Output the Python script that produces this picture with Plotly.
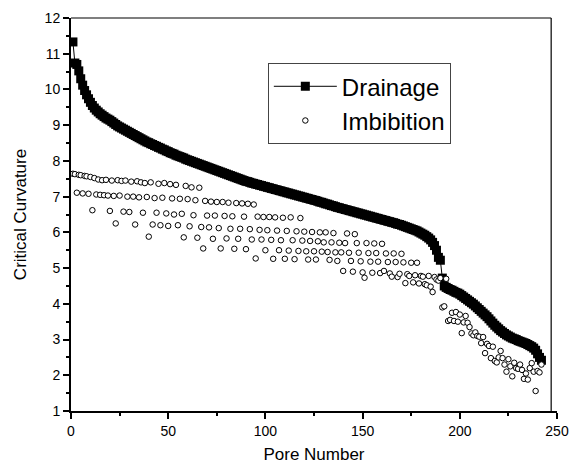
import plotly.graph_objects as go

pore_drainage = list(range(1, 243))
drainage = [
    11.33, 10.74, 10.70, 10.52, 10.30, 10.12, 9.97, 9.85, 9.74, 9.64,
    9.55, 9.48, 9.42, 9.37, 9.32, 9.28, 9.24, 9.20, 9.17, 9.14,
    9.10, 9.06, 9.02, 8.98, 8.95, 8.92, 8.89, 8.86, 8.83, 8.80,
    8.77, 8.74, 8.71, 8.68, 8.65, 8.62, 8.59, 8.56, 8.53, 8.51,
    8.48, 8.46, 8.43, 8.41, 8.38, 8.36, 8.33, 8.31, 8.28, 8.26,
    8.23, 8.21, 8.19, 8.16, 8.14, 8.12, 8.10, 8.08, 8.05, 8.03,
    8.01, 7.99, 7.97, 7.95, 7.93, 7.91, 7.89, 7.87, 7.85, 7.83,
    7.81, 7.79, 7.77, 7.75, 7.73, 7.71, 7.69, 7.67, 7.65, 7.63,
    7.61, 7.59, 7.57, 7.55, 7.53, 7.51, 7.49, 7.47, 7.45, 7.43,
    7.42, 7.40, 7.38, 7.37, 7.35, 7.34, 7.32, 7.31, 7.29, 7.28,
    7.26, 7.25, 7.23, 7.22, 7.20, 7.19, 7.17, 7.16, 7.14, 7.13,
    7.11, 7.10, 7.08, 7.07, 7.05, 7.04, 7.02, 7.01, 6.99, 6.98,
    6.96, 6.95, 6.93, 6.92, 6.90, 6.89, 6.87, 6.85, 6.84, 6.82,
    6.80, 6.79, 6.77, 6.75, 6.74, 6.72, 6.70, 6.69, 6.67, 6.66,
    6.64, 6.63, 6.61, 6.60, 6.58, 6.57, 6.55, 6.54, 6.52, 6.51,
    6.49, 6.48, 6.46, 6.45, 6.43, 6.42, 6.40, 6.39, 6.37, 6.36,
    6.34, 6.33, 6.31, 6.30, 6.28, 6.27, 6.25, 6.23, 6.22, 6.20,
    6.18, 6.16, 6.14, 6.12, 6.10, 6.08, 6.06, 6.04, 6.01, 5.98,
    5.95, 5.92, 5.88, 5.84, 5.79, 5.72, 5.63, 5.50, 5.30, 5.22,
    4.72, 4.50, 4.46, 4.43, 4.40, 4.38, 4.35, 4.32, 4.30, 4.27,
    4.23, 4.19, 4.15, 4.11, 4.07, 4.03, 3.99, 3.94, 3.89, 3.84,
    3.79, 3.74, 3.69, 3.64, 3.58, 3.52, 3.46, 3.40, 3.35, 3.30,
    3.25, 3.21, 3.17, 3.13, 3.10, 3.07, 3.04, 3.02, 3.00, 2.97,
    2.95, 2.93, 2.91, 2.89, 2.86, 2.83, 2.80, 2.76, 2.70, 2.60,
    2.50, 2.42,
]

pore_imbibition = list(range(1, 243))
imbibition = [
    7.64, 7.63, 7.11, 7.61, 7.60, 7.09, 7.58, 7.57, 7.08, 7.55,
    6.62, 7.52, 7.06, 7.48, 7.05, 7.46, 7.04, 7.47, 7.03, 6.60,
    7.45, 7.02, 6.25, 7.46, 7.03, 7.44, 6.58, 7.45, 7.00, 6.57,
    7.42, 7.00, 6.22, 7.43, 6.98, 7.40, 6.55, 7.38, 6.99, 5.88,
    7.40, 6.22, 6.96, 6.55, 7.36, 6.20, 6.97, 7.38, 6.53, 6.18,
    7.35, 6.95, 6.50, 7.33, 6.20, 6.94, 6.52, 5.86, 7.30, 6.93,
    6.17, 7.26, 6.48, 6.90, 5.85, 7.25, 6.15, 5.55, 6.88, 6.47,
    6.14, 6.86, 5.82, 6.47, 6.85, 6.12, 5.55, 6.85, 6.46, 5.83,
    6.83, 6.10, 6.45, 5.54, 6.82, 5.82, 6.10, 6.81, 6.44, 5.53,
    6.80, 6.09, 5.80, 6.78, 5.27, 6.44, 6.07, 5.80, 6.43, 5.50,
    6.06, 6.43, 5.79, 5.26, 6.42, 6.05, 5.50, 5.78, 6.41, 5.26,
    6.04, 5.49, 6.42, 5.78, 5.25, 6.03, 5.48, 6.40, 5.77, 6.02,
    5.47, 5.24, 5.76, 6.01, 5.47, 5.24, 5.75, 6.00, 5.46, 5.72,
    6.00, 5.45, 5.23, 5.72, 5.98, 5.44, 5.20, 5.71, 5.44, 4.92,
    5.70, 5.97, 5.43, 5.20, 4.90, 5.95, 5.70, 5.43, 5.19, 4.88,
    4.73, 5.70, 5.42, 5.18, 4.87, 5.69, 5.42, 5.18, 4.86, 5.68,
    4.92, 5.41, 5.17, 4.85, 4.76, 5.41, 5.17, 4.75, 4.84, 5.40,
    5.16, 4.58, 4.83, 4.78, 5.15, 4.60, 4.80, 5.15, 4.57, 4.78,
    4.76, 4.55, 4.52, 4.78, 4.48, 4.33, 4.75, 4.68, 4.65, 4.72,
    3.90, 3.93, 4.70, 3.52, 3.55, 3.75, 3.52, 3.77, 3.50, 3.70,
    3.18, 3.48, 3.66, 3.47, 3.35, 3.17, 3.12, 3.20, 3.10, 3.08,
    2.90, 3.07, 2.62, 2.88, 2.82, 2.48, 2.80, 2.40, 2.36, 2.50,
    2.68, 2.48, 2.30, 2.10, 2.45, 2.25, 1.97, 2.35, 2.20, 2.18,
    2.30, 2.15, 1.90, 2.05, 1.88, 2.20, 2.34, 2.10, 1.56, 2.12,
    2.08, 2.30,
]

x_ticks = [0, 50, 100, 150, 200, 250]
y_ticks = [1, 2, 3, 4, 5, 6, 7, 8, 9, 10, 11, 12]

FONT = "Arial, Liberation Sans, sans-serif"

fig = go.Figure()
fig.add_trace(go.Scatter(
    x=pore_drainage, y=drainage, name="Drainage", mode="lines+markers",
    line=dict(color="black", width=1),
    marker=dict(symbol="square", size=9, color="black"),
))
fig.add_trace(go.Scatter(
    x=pore_imbibition, y=imbibition, name="Imbibition", mode="markers",
    marker=dict(symbol="circle", size=5.5, color="white",
                line=dict(color="black", width=1)),
))

axis_common = dict(
    showgrid=False, zeroline=False, showline=True, linecolor="black",
    linewidth=2, ticks="outside", tickcolor="black", tickwidth=1.5,
    ticklen=6, tickfont=dict(family=FONT, size=14, color="black"),
    automargin=True,
)
fig.update_xaxes(
    range=[0, 250], tickvals=x_ticks, ticktext=[str(v) for v in x_ticks],
    minor=dict(dtick=25, ticks="outside", ticklen=3, tickcolor="black", tickwidth=1.5),
    title=dict(text="Pore Number", font=dict(family=FONT, size=17, color="black"), standoff=10),
    **axis_common,
)
fig.update_yaxes(
    range=[1, 12], tickvals=y_ticks, ticktext=[str(v) for v in y_ticks],
    minor=dict(dtick=0.5, ticks="outside", ticklen=3, tickcolor="black", tickwidth=1.5),
    title=dict(text="Critical Curvature", font=dict(family=FONT, size=17, color="black"), standoff=14),
    **axis_common,
)

fig.add_shape(type="line", xref="paper", yref="paper", x0=0, x1=0.988, y0=1, y1=1,
              line=dict(color="black", width=1.2))
fig.add_shape(type="line", xref="paper", yref="paper", x0=0.988, x1=0.988, y0=0, y1=1,
              line=dict(color="black", width=1.2))

fig.update_layout(
    width=570, height=467,
    margin=dict(l=71, r=13, t=18, b=56, autoexpand=False),
    paper_bgcolor="white", plot_bgcolor="white",
    font=dict(family=FONT, color="black"),
    legend=dict(
        x=0.405, y=0.885, xanchor="left", yanchor="top",
        bordercolor="#444", borderwidth=1, bgcolor="white",
        font=dict(family=FONT, size=24, color="black"),
        itemwidth=63, tracegroupgap=0,
    ),
)

# remove the default 8px page margin so the 570x467 figure fills the window exactly
fig.write_html(
    "out.html",
    config={"displayModeBar": False},
    post_script="document.body.style.margin='0';document.body.style.overflow='hidden';",
)
